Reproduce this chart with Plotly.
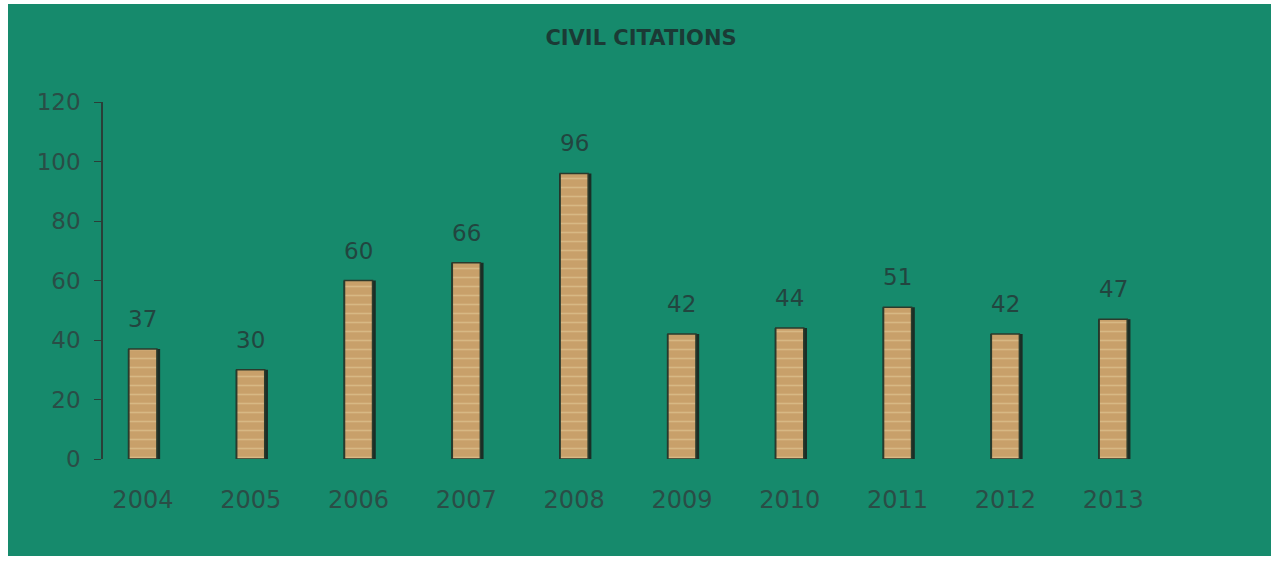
import plotly.graph_objects as go

years = ["2004", "2005", "2006", "2007", "2008", "2009", "2010", "2011", "2012", "2013"]
citations = [37, 30, 60, 66, 96, 42, 44, 51, 42, 47]
y_ticks = [0, 20, 40, 60, 80, 100, 120]

W, H = 1277, 561
ML, MR, MT, MB = 103, 56, 102, 102
PW, PH = W - ML - MR, H - MT - MB

GREEN = "#168a6c"
TAN = "#c8a06a"
TEXT = "#22453f"
FONT = "DejaVu Sans, Arial, sans-serif"

fig = go.Figure()

# shadow behind each bar
fig.add_trace(go.Bar(
    x=years, y=citations, width=0.3, offset=-0.14,
    marker=dict(color="#1a2e26", line=dict(width=0)),
    hoverinfo="skip", showlegend=False,
))
fig.add_trace(go.Bar(
    x=years, y=citations, width=0.26, offset=-0.13,
    marker=dict(
        color=TAN,
        line=dict(color="#2b3a2c", width=1.5),
        pattern=dict(shape="-", fgcolor="#e6cf9e", bgcolor=TAN, size=9, solidity=0.18),
    ),
    showlegend=False,
))

# value labels; x given as category index so "2004" isn't read as a number
for i, v in enumerate(citations):
    fig.add_annotation(
        x=i, y=v, text=str(v), showarrow=False, yanchor="bottom", yshift=15,
        font=dict(family=FONT, size=23, color=TEXT),
    )

# green panel inside the white scan border
fig.add_shape(
    type="rect", xref="paper", yref="paper", layer="below",
    x0=(8 - ML) / PW, x1=(1271 - ML) / PW,
    y0=(H - MB - 556) / PH, y1=(H - MB - 4) / PH,
    fillcolor=GREEN, line=dict(width=0),
)

fig.update_layout(
    width=W, height=H,
    margin=dict(l=ML, r=MR, t=MT, b=MB),
    paper_bgcolor="white", plot_bgcolor="rgba(0,0,0,0)",
    barmode="overlay",
    title=dict(
        text="<b>CIVIL CITATIONS</b>", x=641 / W, xanchor="center",
        y=1 - 38 / H, yanchor="middle",
        font=dict(family=FONT, size=21, color="#1b3a35"),
    ),
    font=dict(family=FONT, color=TEXT),
)
fig.update_xaxes(
    type="category", range=[-0.37, 10.0], showgrid=False, showline=False,
    ticks="", ticklabelstandoff=24, tickfont=dict(size=24, color="#2a4d46"),
)
fig.update_yaxes(
    range=[0, 120], tickvals=y_ticks, showgrid=False, zeroline=False,
    showline=True, linecolor="#2a3f38", linewidth=1.5,
    ticks="outside", ticklen=7, tickcolor="#2a3f38", ticklabelstandoff=9,
    tickfont=dict(size=23, color="#2a4d46"),
)

fig.write_html(
    "out.html",
    config={"displayModeBar": False},
    post_script="document.body.style.margin='0px';",
)
